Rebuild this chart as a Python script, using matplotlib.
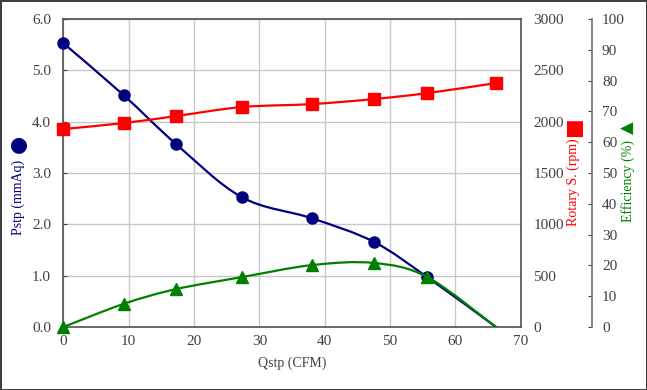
import numpy as np
import matplotlib
matplotlib.use("Agg")
from matplotlib import pyplot as plt
from matplotlib.path import Path
from matplotlib.patches import PathPatch

# data
qstp = [0.0, 9.2, 17.2, 27.3, 38.0, 47.5, 55.7, 66.2]
pstp = [5.53, 4.52, 3.57, 2.53, 2.12, 1.66, 0.97, 0.0]
rpm = [1929, 1987, 2055, 2143, 2172, 2221, 2279, 2377]
eff = [0.0, 7.5, 12.3, 16.2, 20.1, 20.8, 16.2, 0.0]

TXT = '#404040'
plt.rcParams['font.family'] = ['Liberation Serif', 'DejaVu Sans']
plt.rcParams['font.size'] = 11


def smooth_line(ax, xs, ys, color):
    # Excel style smoothed line: cubic bezier through the points
    pts = np.column_stack([xs, ys])
    n = len(pts)
    verts = [pts[0]]
    codes = [Path.MOVETO]
    for i in range(n - 1):
        p0 = pts[i - 1] if i > 0 else pts[i]
        p1 = pts[i]
        p2 = pts[i + 1]
        p3 = pts[i + 2] if i + 2 < n else pts[i + 1]
        verts += [p1 + (p2 - p0) / 6, p2 - (p3 - p1) / 6, p2]
        codes += [Path.CURVE4] * 3
    ax.add_patch(PathPatch(Path(verts, codes), fill=False, edgecolor=color, lw=1.6, zorder=3))


fig = plt.figure(figsize=(6.47, 3.9), dpi=100, edgecolor='#404040', linewidth=2)
ax = fig.add_axes([0.098, 0.1615, 0.707, 0.7895])
ax2 = ax.twinx()
ax3 = ax.twinx()

# Pstp
smooth_line(ax, qstp, pstp, '#000080')
ax.plot(qstp[:-1], pstp[:-1], 'o', color='#000080', ms=8, zorder=4, clip_on=False)
ax.set_xlim(0, 70)
ax.set_ylim(0, 6)
ax.set_yticks(np.arange(0, 6.1, 1.0))
ax.set_yticklabels(['%.1f' % v for v in np.arange(0, 6.1, 1.0)])
ax.set_xticks(range(0, 71, 10))
ax.grid(True, color='#c8c8c8', lw=1)
ax.set_axisbelow(True)
for s in ax.spines.values():
    s.set_color('#505050')
    s.set_linewidth(1.2)
ax.tick_params(axis='y', direction='in', length=3, pad=9, colors=TXT, labelsize=11)
ax.tick_params(axis='x', length=0, pad=6, colors=TXT, labelsize=11)
ax.set_xlabel('Qstp (CFM)', color=TXT, fontsize=10, labelpad=6)

# Rotary speed
smooth_line(ax2, qstp, rpm, '#ff0000')
ax2.plot(qstp, rpm, 's', color='#ff0000', ms=8, zorder=4, clip_on=False)
ax2.set_ylim(0, 3000)
ax2.set_yticks(range(0, 3001, 500))
ax2.spines['right'].set_visible(False)
ax2.tick_params(axis='y', length=0, pad=9, colors=TXT, labelsize=11)

# Efficiency
smooth_line(ax3, qstp, eff, '#008000')
ax3.plot(qstp[:-1], eff[:-1], '^', color='#008000', ms=8, zorder=4, clip_on=False)
ax3.set_ylim(0, 100)
ax3.set_yticks(range(0, 101, 10))
ax3.spines['right'].set_position(('axes', 1.156))
ax3.spines['right'].set_color('#707070')
ax3.spines['right'].set_linewidth(1.2)
ax3.tick_params(axis='y', direction='in', length=3, pad=7, colors=TXT, labelsize=11)
for a in (ax2, ax3):
    for k in ('top', 'left', 'bottom'):
        a.spines[k].set_visible(False)

# axis titles with their marker symbols
fig.text(0.028, 0.495, 'Pstp (mmAq)', rotation=90, color='#000080', ha='center', va='center', fontsize=10)
fig.text(0.028, 0.632, '●', rotation=90, color='#000080', ha='center', va='center', fontsize=15, family='DejaVu Sans')
fig.text(0.886, 0.532, 'Rotary S. (rpm)', rotation=90, color='#ff0000', ha='center', va='center', fontsize=10)
fig.text(0.886, 0.674, '■', rotation=90, color='#ff0000', ha='center', va='center', fontsize=15, family='DejaVu Sans')
fig.text(0.971, 0.536, 'Efficiency (%)', rotation=90, color='#008000', ha='center', va='center', fontsize=10)
fig.text(0.971, 0.674, '▲', rotation=90, color='#008000', ha='center', va='center', fontsize=12, family='DejaVu Sans')

fig.savefig('out.png', dpi=100, edgecolor=fig.get_edgecolor())
